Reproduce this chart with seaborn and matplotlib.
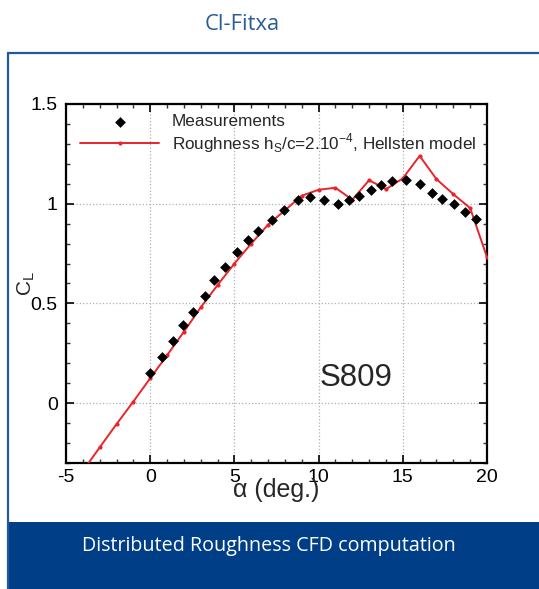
import matplotlib
matplotlib.use("Agg")
import matplotlib.pyplot as plt
from matplotlib.lines import Line2D
from matplotlib.patches import Rectangle
from matplotlib.ticker import MultipleLocator
import seaborn as sns

# ---- data ----
meas_alpha = [0.0, 0.73, 1.33, 1.96, 2.57, 3.25, 3.78, 4.44, 5.17, 5.82, 6.42, 7.23,
              7.92, 8.75, 9.49, 10.34, 11.13, 11.8, 12.42, 13.09, 13.73, 14.38, 15.19,
              16.0, 16.74, 17.35, 18.03, 18.68, 19.36]
meas_cl = [0.153, 0.233, 0.31, 0.39, 0.458, 0.538, 0.62, 0.685, 0.757, 0.817, 0.862, 0.92,
           0.967, 1.02, 1.033, 1.02, 1.0, 1.02, 1.04, 1.07, 1.093, 1.113, 1.12,
           1.097, 1.055, 1.023, 1.0, 0.96, 0.925]

cfd_alpha = [-4, -3, -2, -1, 0, 1, 2, 3, 4, 5, 6, 7, 8, 9, 10, 11, 12, 13, 14, 15, 16, 17, 18, 19, 20]
cfd_cl = [-0.34, -0.222, -0.105, 0.008, 0.125, 0.24, 0.358, 0.48, 0.592, 0.70, 0.80, 0.895,
          0.967, 1.04, 1.07, 1.08, 1.02, 1.118, 1.073, 1.127, 1.24, 1.123, 1.048, 0.978, 0.732]

x_ticks = [-5, 0, 5, 10, 15, 20]
x_ticklabels = ["-5", "0", "5", "10", "15", "20"]
y_ticks = [0, 0.5, 1, 1.5]
y_ticklabels = ["0", "0.5", "1", "1.5"]

meas_label = "Measurements"
cfd_label = r"Roughness h$_\mathregular{S}$/c=2.10$^\mathregular{-4}$, Hellsten model"
title_text = "Cl-Fitxa"
band_text = "Distributed Roughness CFD computation"
airfoil_text = "S809"

sns.set_theme(style="ticks")
plt.rcParams["font.family"] = ["Liberation Sans", "DejaVu Sans"]
plt.rcParams["mathtext.fontset"] = "custom"
plt.rcParams["mathtext.rm"] = "Liberation Sans"

W, H = 539, 589
fig = plt.figure(figsize=(W / 100, H / 100), dpi=100)
fig.patch.set_facecolor("white")

# frame / band decorations
blue_line = "#1f5a9e"
band_col = "#003f87"
fig.add_artist(Rectangle((8 / W, 0), 1 - 8 / W, (H - 522) / H, transform=fig.transFigure,
                         facecolor=band_col, edgecolor="none", zorder=0))
fig.add_artist(Line2D([8 / W, 8 / W], [0, 1 - 53 / H], transform=fig.transFigure,
                      color=blue_line, lw=1.6))
fig.add_artist(Line2D([8 / W, 1], [1 - 53 / H, 1 - 53 / H], transform=fig.transFigure,
                      color=blue_line, lw=1.6))

renderer = fig.canvas.get_renderer()

def fit_text(x, y, s, target_px, family, color, size0=16):
    t = fig.text(x, y, s, ha="center", va="center", color=color, fontsize=size0,
                 family=family)
    w = t.get_window_extent(renderer=renderer).width
    t.set_fontsize(size0 * target_px / w)
    return t

fit_text(242.5 / W, 1 - 25 / H, title_text, 75, ["Liberation Sans Narrow", "Open Sans"],
         "#2b5c9a", 18)
fit_text(269 / W, 1 - 546 / H, band_text, 376, ["Open Sans", "Liberation Sans"],
         "white", 16)

# axes
ax = fig.add_axes([66 / W, 1 - 463 / H, (487 - 66) / W, (463 - 104) / H])
ax.set_facecolor("white")

sns.lineplot(x=cfd_alpha, y=cfd_cl, ax=ax, color="#e8252b", lw=1.4, marker="o",
             markersize=3, markeredgewidth=0, label=cfd_label, zorder=3)
sns.scatterplot(x=meas_alpha, y=meas_cl, ax=ax, marker="D", s=30, color="black",
                linewidth=0, label=meas_label, zorder=4)

ax.set_xlim(-5, 20)
ax.set_ylim(-0.3, 1.5)
ax.set_xticks(x_ticks)
ax.set_xticklabels(x_ticklabels)
ax.set_yticks(y_ticks)
ax.set_yticklabels(y_ticklabels)
ax.xaxis.set_minor_locator(MultipleLocator(1))
ax.yaxis.set_minor_locator(MultipleLocator(0.1))
ax.tick_params(which="both", direction="in", top=True, right=True, color="#333333")
ax.tick_params(which="major", length=6, width=1.2, labelsize=14, colors="black")
ax.tick_params(which="minor", length=3, width=1.0)
ax.tick_params(axis="x", which="major", pad=4)
ax.tick_params(axis="y", which="major", pad=6)
for sp in ax.spines.values():
    sp.set_linewidth(1.6)
    sp.set_color("black")
ax.grid(True, which="major", color="#b0b0b0", linestyle=":", linewidth=0.9)
ax.set_axisbelow(True)

ax.set_xlabel("α (deg.)", fontsize=18, labelpad=0)
ax.xaxis.set_label_coords(0.5, -0.042)
ax.set_ylabel(r"C$_\mathregular{L}$", fontsize=15)
ax.yaxis.set_label_coords(-0.07, 0.5)

ax.text(10.05, 0.125, airfoil_text, fontsize=22.5, ha="left", va="center")

handles, labels = ax.get_legend_handles_labels()
order = [labels.index(meas_label), labels.index(cfd_label)]
ax.legend([handles[i] for i in order], [labels[i] for i in order],
          loc="upper left", bbox_to_anchor=(0.033, 0.972), frameon=False,
          fontsize=12.3, handlelength=4.65, handletextpad=0.72, labelspacing=0.12,
          borderpad=0, borderaxespad=0, scatterpoints=1)

fig.savefig("out.png", dpi=100, facecolor="white")
